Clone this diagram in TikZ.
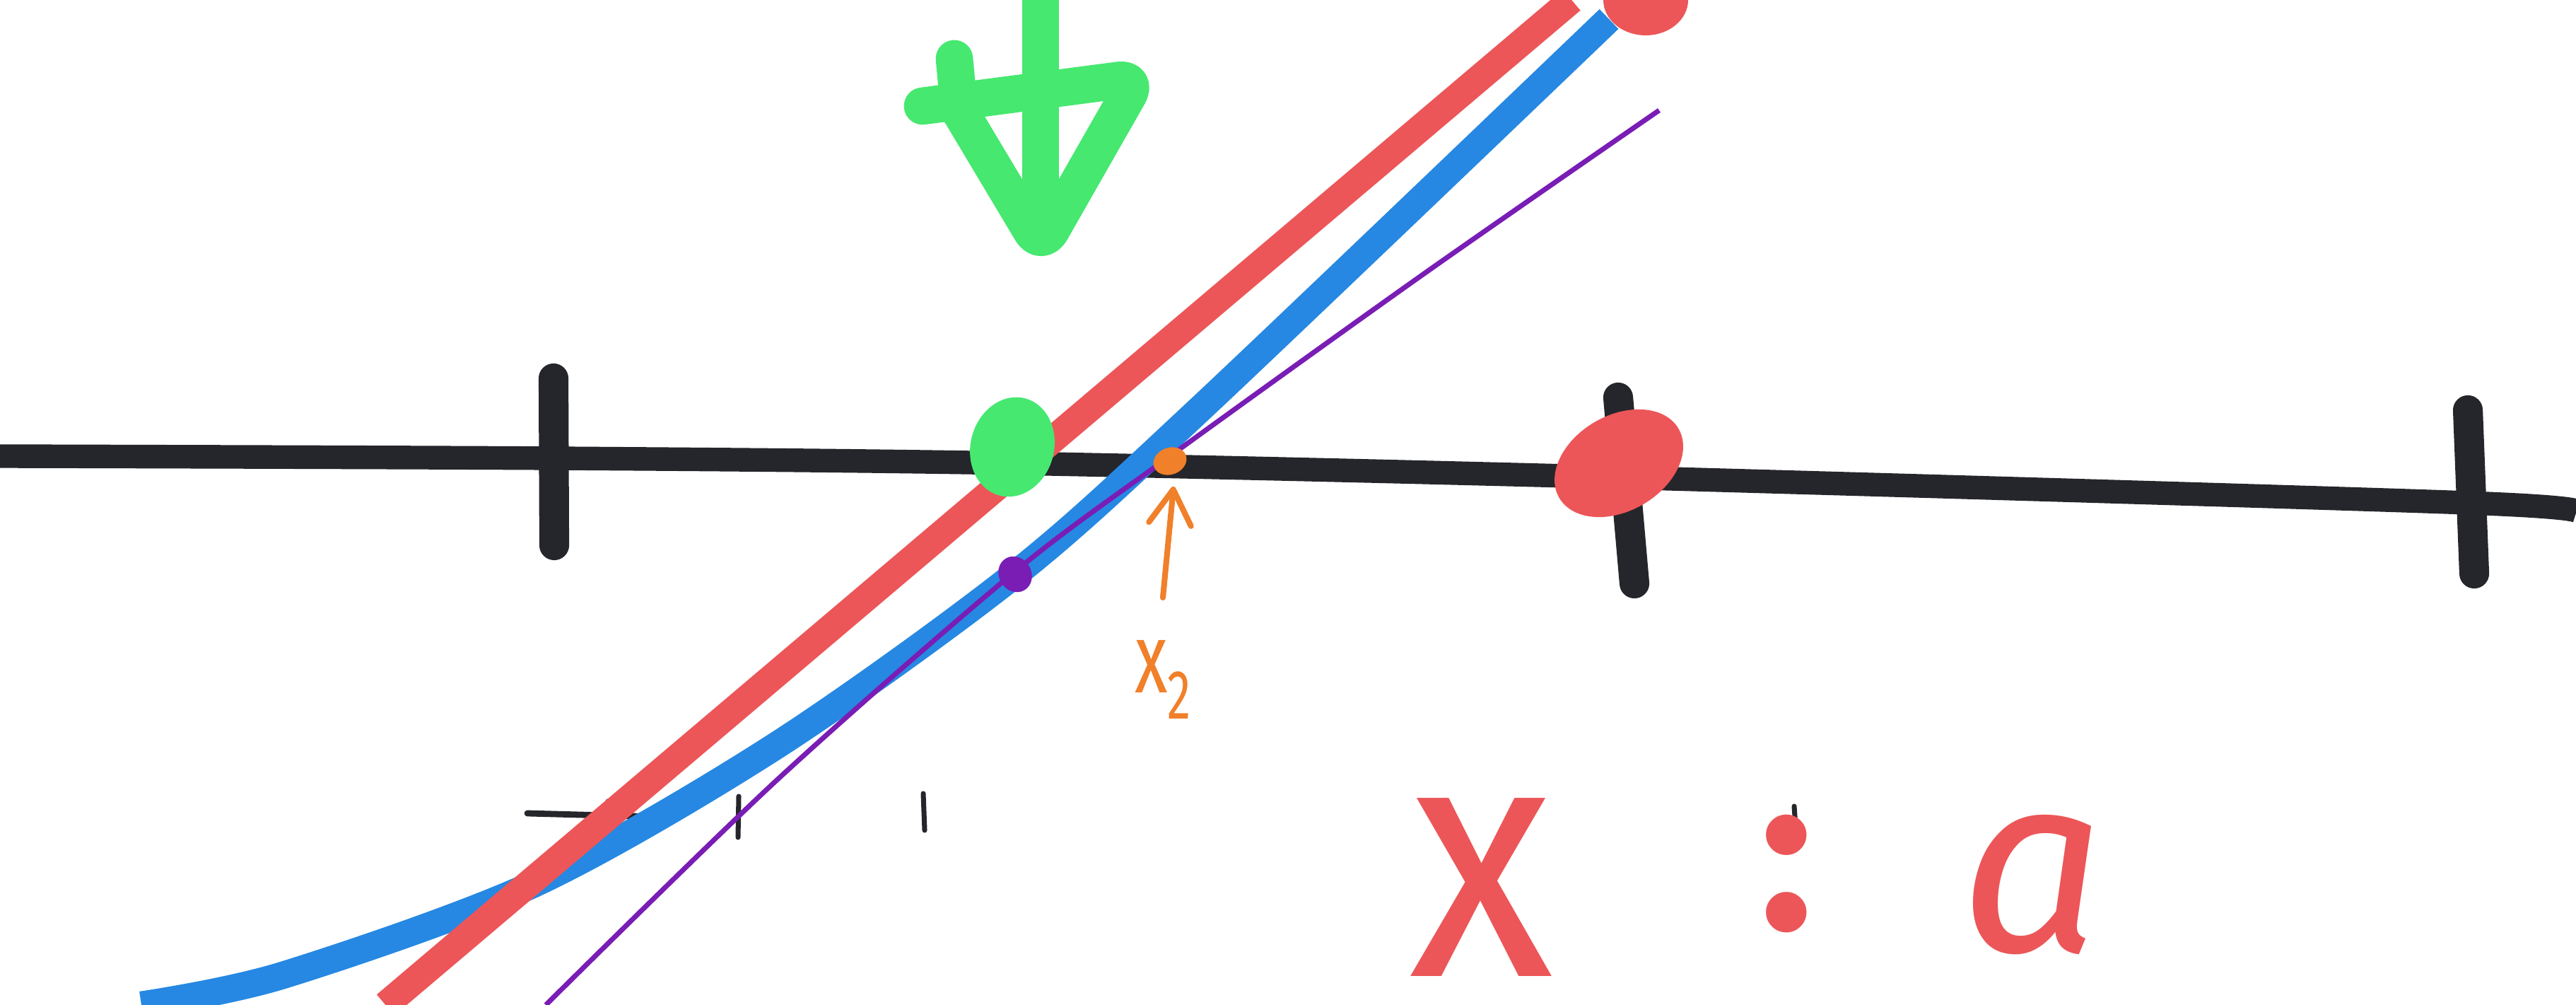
\documentclass[tikz,border=0pt]{standalone}
\usepackage{fontspec}
\newfontfamily\handfont{Fira Sans}
\usepackage{xcolor}
\usepackage{tikz}
\usetikzlibrary{shapes.geometric, arrows.meta, positioning}
\definecolor{mydark}{RGB}{37,38,43}
\definecolor{myred}{RGB}{236,86,88}
\definecolor{myblue}{RGB}{38,136,226}
\definecolor{mygreen}{RGB}{70,232,112}
\definecolor{mypurple}{RGB}{121,29,181}
\definecolor{myorange}{RGB}{240,128,42}
\tikzset{
  axisline/.style={line width=9.5pt, color=mydark},
  bigtick/.style={line width=12pt, color=mydark, line cap=round},
  smalltick/.style={line width=2pt, color=mydark, line cap=round},
  curveline/.style={line width=11pt, color=myblue},
  secline/.style={line width=11pt, color=myred},
  tanline/.style={line width=2pt, color=mypurple},
  greenpen/.style={line width=15pt, color=mygreen, line cap=round, line join=round},
  blob/.style={ellipse, inner sep=0pt, draw=none},
  handtext/.style={inner sep=0pt, outer sep=0pt},
  orangearrow/.style={-{Straight Barb[length=14pt,width=17pt,round]}, line width=2.3pt,
    color=myorange, line cap=round}
}

\begin{document}
\begin{tikzpicture}
  \useasboundingbox (0,0) rectangle (36.44,14.21);

  % Axis and ticks
  \draw[axisline] plot[smooth] coordinates {(0,7.76) (7.83,7.73) (14.30,7.66) (22.90,7.46) (34.90,7.10) (36.44,6.96)};
  \draw[bigtick] (7.83,8.86) -- (7.84,6.50);
  \draw[bigtick] (22.89,8.59) -- (23.12,5.96);
  \draw[bigtick] (34.91,8.41) -- (35.00,6.10);

  % Small marks below
  \draw[smalltick, line width=2.5pt] (7.46,2.71) -- (9.31,2.66);
  \draw[smalltick] (8.60,2.88) -- (8.63,2.34);
  \draw[smalltick] (10.45,2.95) -- (10.44,2.37);
  \draw[smalltick] (13.06,2.99) -- (13.08,2.47);
  \draw[smalltick] (25.38,2.81) -- (25.40,2.52);

  % Curve, secant and tangent
  \draw[curveline] plot[smooth] coordinates {(2.00,0) (4.00,0.42) (7.57,1.72) (11.00,3.68) (14.36,6.09) (17.00,8.45) (22.76,13.94)};
  \draw[secline] (5.454,0) -- (22.231,14.21);
  \draw[tanline] plot[smooth] coordinates {(7.72,0) (11.00,3.19) (14.36,6.13) (16.55,7.76) (20.13,10.33) (23.47,12.65)};

  % Points
  \node[blob, fill=mygreen, minimum width=1.18cm, minimum height=1.42cm, rotate=-15] (startpt) at (14.32,7.89) {};
  \node[blob, fill=myred, minimum width=1.95cm, minimum height=1.35cm, rotate=30] (rootpt) at (22.90,7.66) {};
  \fill[myred] (22.68,14.21) arc[start angle=180, end angle=360, x radius=0.6, y radius=0.5] -- cycle;
  \node[blob, fill=mypurple, minimum width=0.46cm, minimum height=0.52cm, rotate=30] (tanpt) at (14.36,6.09) {};
  \node[blob, fill=myorange, minimum width=0.48cm, minimum height=0.38cm, rotate=20] (xtwo) at (16.55,7.69) {};

  % Green arrow
  \draw[greenpen, line cap=butt] (14.72,14.21) -- (14.72,11.00);
  \draw[greenpen, rounded corners=8pt] (13.05,12.71) -- (16.10,13.11) -- (14.73,10.71) -- (13.60,12.60);
  \draw[greenpen] (13.50,13.38) -- (13.57,12.64);

  % Labels
  \node[handtext, text=myorange, font=\handfont\fontsize{40}{40}\selectfont, anchor=base west, xscale=0.68] (xtwolbl) at (16.05,4.41) {x\textsubscript{2}};
  \coordinate (xtwotail) at (16.45,5.76);
  \draw[orangearrow, shorten >=5pt] (xtwotail) -- (xtwo.south);

  \node[handtext, text=myred, font=\handfont\fontsize{136}{136}\selectfont, anchor=base, xscale=0.88] (bigx) at (20.95,0.40) {x};
  \node[handtext, text=myred, font=\handfont\bfseries\fontsize{90}{90}\selectfont, anchor=base] (bigcolon) at (25.27,1.07) {:};
  \node[handtext, text=myred, font=\handfont\itshape\fontsize{102}{102}\selectfont, anchor=base] (biga) at (28.75,0.75) {a};
\end{tikzpicture}
\end{document}
